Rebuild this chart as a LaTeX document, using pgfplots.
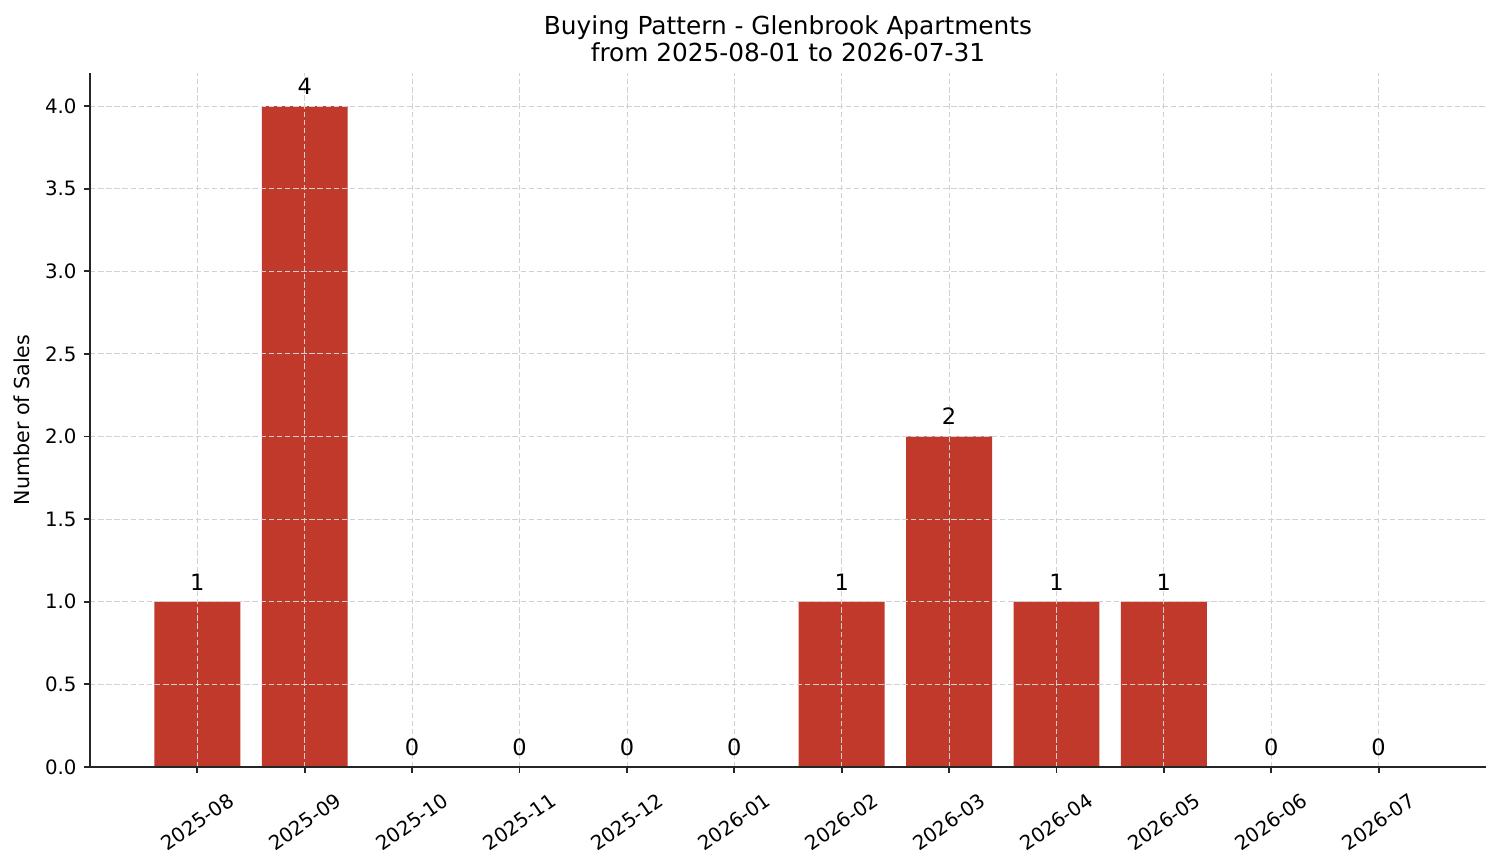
\documentclass[border=0pt]{standalone}
\usepackage{fontspec}
\setmainfont{DejaVu Sans}
\usepackage{pgfplots}
\pgfplotsset{compat=1.18}
\definecolor{barred}{HTML}{C0392B}
\definecolor{spine}{HTML}{262626}

\begin{document}
\begin{tikzpicture}
\begin{axis}[
    scale only axis,
    width=670.1pt, height=333.1pt,
    xmin=-1, xmax=12,
    ymin=0, ymax=4.2,
    ybar, bar width=0.8, bar shift=0pt,
    xtick={0,...,11},
    xticklabels={2025-08,2025-09,2025-10,2025-11,2025-12,2026-01,2026-02,2026-03,2026-04,2026-05,2026-06,2026-07},
    ytick={0,0.5,...,4.0},
    yticklabel style={/pgf/number format/.cd,fixed,fixed zerofill,precision=1},
    /pgf/number format/assume math mode=true,
    ticklabel style={font=\fontsize{9.5pt}{11pt}\selectfont, color=black},
    xticklabel style={yshift=-23.5pt, rotate=35, anchor=center},
    axis x line*=bottom, axis y line*=left,
    axis line style={spine, line width=0.9pt, -},
    tick style={spine, line width=0.9pt},
    major tick length=2.9pt,
    tick align=outside,
    grid=major,
    major grid style={black!18, line width=0.4pt, dash pattern=on 2.6pt off 1.3pt},
    axis on top,
    ylabel={Number of Sales},
    ylabel style={font=\fontsize{9.9pt}{12pt}\selectfont, at={([xshift=-32.6pt]axis description cs:0,0.5)}, anchor=center},
    title={Buying Pattern - Glenbrook Apartments\\from 2025-08-01 to 2026-07-31},
    title style={font=\fontsize{11.9pt}{13pt}\selectfont, align=center, anchor=south, at={(axis description cs:0.5,1)}, yshift=-4pt},
    nodes near coords,
    nodes near coords style={font=\fontsize{10.8pt}{12pt}\selectfont, color=black, anchor=south, yshift=2pt, /pgf/number format/assume math mode=true},
    clip=false,
]
\addplot[fill=barred, draw=none] coordinates {
    (0,1) (1,4) (2,0) (3,0) (4,0) (5,0) (6,1) (7,2) (8,1) (9,1) (10,0) (11,0)
};
\path (rel axis cs:0,0) ++(-43.2pt,-46.08pt) coordinate (bl);
\path (rel axis cs:1,1) ++(7.2pt,35.04pt) coordinate (tr);
\end{axis}
\pgfresetboundingbox
\path[use as bounding box] (bl) rectangle (tr);
\end{tikzpicture}
\end{document}
